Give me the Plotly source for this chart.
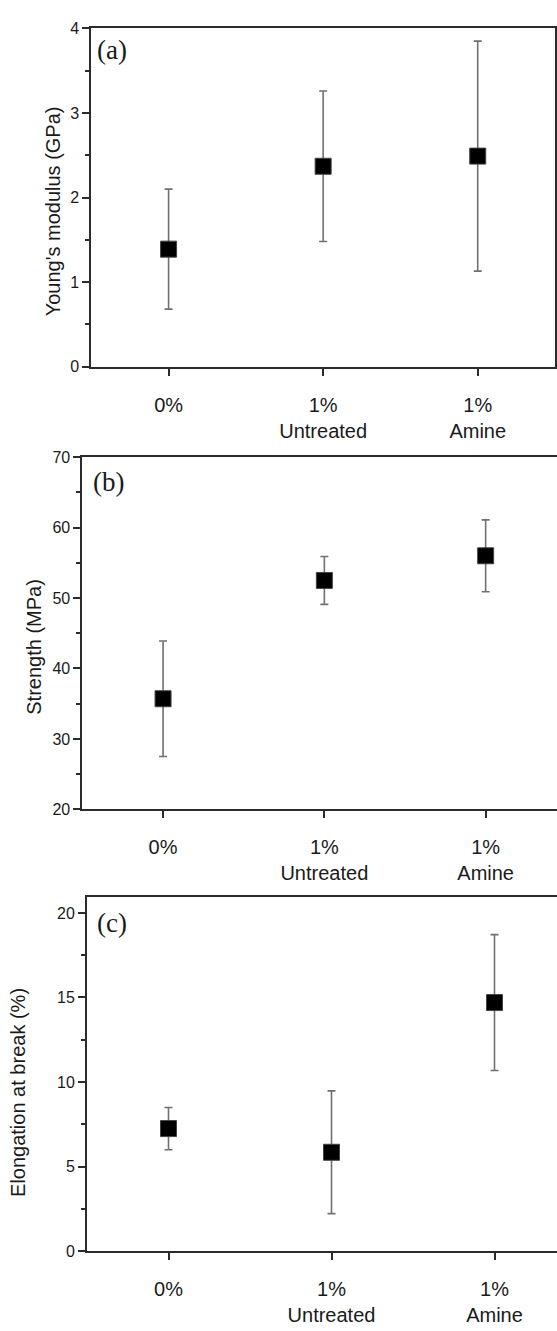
import plotly.graph_objects as go

W, H = 557, 1331

categories = ["0%", "1%<br>Untreated", "1%<br>Amine"]
cat_pos = [0, 1, 2]

modulus_mean = [1.39, 2.37, 2.49]
modulus_err = [0.71, 0.89, 1.36]

strength_mean = [35.7, 52.5, 56.0]
strength_err = [8.2, 3.4, 5.1]

elong_mean = [7.25, 5.85, 14.7]
elong_err = [1.25, 3.63, 4.02]

AXIS_COLOR = "#2b2b2b"
ERR_COLOR = "#707070"
SANS = "Liberation Sans, Arial, sans-serif"
SERIF = "Liberation Serif, Times New Roman, serif"


def px_x(x):
    return x / W


def px_y(y):
    return 1 - y / H


fig = go.Figure()

panels = [
    dict(mean=modulus_mean, err=modulus_err, ax="", xdom=(91.3, 555), ydom=(20.7, 363.3),
         xrange=[-0.5, 2.5], yrange=[0, 4], dtick=1, minor=0.5, mirror_y=True,
         title="Young's modulus (GPa)", title_xy=(53, 206), tag="(a)", tag_xy=(95, 43)),
    dict(mean=strength_mean, err=strength_err, ax="2", xdom=(82.4, 557), ydom=(455, 811.7),
         xrange=[-0.5, (557 - 82.4) / 161.3 - 0.5], yrange=[20, 70], dtick=10, minor=5,
         mirror_y=False, title="Strength (MPa)", title_xy=(34, 647), tag="(b)", tag_xy=(91, 480)),
    dict(mean=elong_mean, err=elong_err, ax="3", xdom=(87, 557), ydom=(900.7, 1259.3),
         xrange=[-0.5, (557 - 87) / 163 - 0.5], yrange=[0, 20.93], dtick=5, minor=2.5,
         mirror_y=False, title="Elongation at break (%)", title_xy=(18, 1099), tag="(c)",
         tag_xy=(95, 927)),
]

annotations = []
for p in panels:
    ax = p["ax"]
    fig.add_trace(go.Scatter(
        x=cat_pos, y=p["mean"], mode="markers",
        xaxis="x" + ax, yaxis="y" + ax,
        marker=dict(symbol="square", size=16, color="black",
                    line=dict(color="#444444", width=1)),
        error_y=dict(type="data", array=p["err"], symmetric=True,
                     color=ERR_COLOR, thickness=1.6, width=4),
        showlegend=False,
    ))
    xa = dict(
        domain=[px_x(p["xdom"][0]), px_x(p["xdom"][1])],
        range=p["xrange"], anchor="y" + ax,
        tickmode="array", tickvals=cat_pos, ticktext=categories,
        ticks="outside", ticklen=7, tickwidth=1.5, tickcolor=AXIS_COLOR,
        showline=True, linecolor=AXIS_COLOR, linewidth=2, mirror=True,
        showgrid=False, zeroline=False,
        tickfont=dict(family=SANS, size=20, color="#1a1a1a"),
        ticklabelstandoff=12,
    )
    ya = dict(
        domain=[px_y(p["ydom"][1]), px_y(p["ydom"][0])],
        range=p["yrange"], anchor="x" + ax,
        tick0=p["yrange"][0], dtick=p["dtick"],
        ticks="outside", ticklen=7, tickwidth=1.5, tickcolor=AXIS_COLOR,
        minor=dict(dtick=p["minor"], ticks="outside", ticklen=4,
                   tickwidth=1.5, tickcolor=AXIS_COLOR, showgrid=False),
        showline=True, linecolor=AXIS_COLOR, linewidth=2, mirror=p["mirror_y"],
        showgrid=False, zeroline=False,
        tickfont=dict(family=SANS, size=16, color="#1a1a1a"),
    )
    fig.update_layout(**{"xaxis" + ax: xa, "yaxis" + ax: ya})

    annotations.append(dict(
        text=p["title"], textangle=-90, showarrow=False,
        xref="paper", yref="paper",
        x=px_x(p["title_xy"][0]), y=px_y(p["title_xy"][1]),
        xanchor="center", yanchor="middle",
        font=dict(family=SANS, size=20, color="#1a1a1a"),
    ))
    annotations.append(dict(
        text=p["tag"], showarrow=False,
        xref="paper", yref="paper",
        x=px_x(p["tag_xy"][0]), y=px_y(p["tag_xy"][1]),
        xanchor="left", yanchor="middle",
        font=dict(family=SERIF, size=27, color="#1a1a1a"),
    ))

fig.update_layout(
    width=W, height=H,
    margin=dict(l=0, r=0, t=0, b=0),
    paper_bgcolor="white", plot_bgcolor="white",
    annotations=annotations,
)

fig.write_html("out.html")
